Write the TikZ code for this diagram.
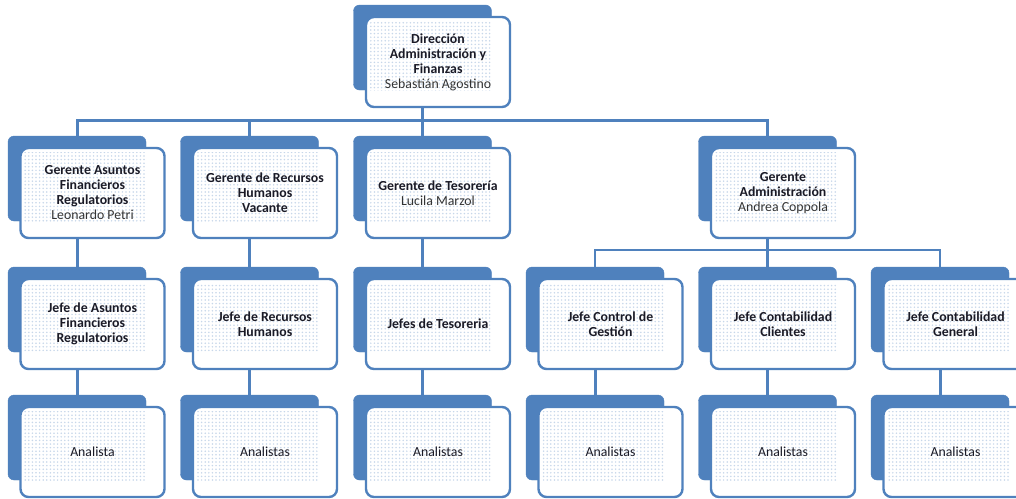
\documentclass[tikz,border=0pt]{standalone}
\usepackage{fontspec}
\setmainfont{Carlito}
\usetikzlibrary{patterns.meta}
\definecolor{obl}{HTML}{4F81BD}
\definecolor{txt}{HTML}{1A1A26}
\definecolor{nametxt}{HTML}{333333}
\tikzset{
  backbox/.style={fill=obl, draw=obl, rounded corners=6pt, minimum width=138pt, minimum height=85pt, inner sep=0pt, outer sep=0pt},
  frontbox/.style={fill=white, draw=obl, line width=2.4pt, rounded corners=8pt, minimum width=144pt, minimum height=90pt, inner sep=0pt, outer sep=0pt},
  dotfill/.style={pattern={Dots[distance=3.6pt,radius=0.85pt]}, pattern color=obl!32},
  boxtext/.style={align=center, font=\fontsize{13.8}{15}\selectfont, text=txt, inner sep=1pt},
  conn/.style={draw=obl, line width=3pt},
  subconn/.style={draw=obl, line width=2pt},
}
\newcommand\orgunit[4]{%
  \node[backbox] (b#1) at (#2, #3+42.5) {};
  \node[frontbox] (f#1) at (#2+15.5, #3+57) {};
  \fill[dotfill] ([shift={(3pt,-4pt)}]f#1.north west) rectangle (b#1.south east);
  \node[boxtext] (t#1) at (f#1.center) {#4};
}
\newcommand\nm[1]{{\color{nametxt}#1}}
\begin{document}
\begin{tikzpicture}[x=1pt, y=-1pt]
\useasboundingbox (0,0) rectangle (1016,498);
\fill[white] (0,0) rectangle (1016,498);

% level 1
\orgunit{0}{422.5}{5}{\textbf{Dirección}\\\textbf{Administración y}\\\textbf{Finanzas}\\\nm{Sebastián Agostino}}
% level 2
\orgunit{gA}{77}{136}{\textbf{Gerente Asuntos}\\\textbf{Financieros}\\\textbf{Regulatorios}\\\nm{Leonardo Petri}}
\orgunit{gB}{249.5}{136}{\textbf{Gerente de Recursos}\\\textbf{Humanos}\\\textbf{Vacante}}
\orgunit{gC}{422.5}{136}{\textbf{Gerente de Tesorería}\\\nm{Lucila Marzol}}
\orgunit{gD}{767.5}{136}{\textbf{Gerente}\\\textbf{Administración}\\\nm{Andrea Coppola}}
% level 3
\orgunit{jA}{77}{267}{\textbf{Jefe de Asuntos}\\\textbf{Financieros}\\\textbf{Regulatorios}}
\orgunit{jB}{249.5}{267}{\textbf{Jefe de Recursos}\\\textbf{Humanos}}
\orgunit{jC}{422.5}{267}{\textbf{Jefes de Tesoreria}}
\orgunit{jD}{595}{267}{\textbf{Jefe Control de}\\\textbf{Gestión}}
\orgunit{jE}{767.5}{267}{\textbf{Jefe Contabilidad}\\\textbf{Clientes}}
\orgunit{jF}{940}{267}{\textbf{Jefe Contabilidad}\\\textbf{General}}
% level 4
\orgunit{aA}{77}{395}{Analista}
\orgunit{aB}{249.5}{395}{Analistas}
\orgunit{aC}{422.5}{395}{Analistas}
\orgunit{aD}{595}{395}{Analistas}
\orgunit{aE}{767.5}{395}{Analistas}
\orgunit{aF}{940}{395}{Analistas}

% connectors
\coordinate (bus) at (422.5,120);
\coordinate (sub) at (767.5,250);
\draw[conn] (b0 |- f0.south) -- (bus);
\draw[conn] (bgA.north) |- (bus) -| (bgD.north);
\draw[conn] (bgB.north) -- (bgB |- bus);
\draw[conn] (bgC.north) -- (bgC |- bus);

\draw[conn] (bgA |- fgA.south) -- (bjA.north);
\draw[conn] (bgB |- fgB.south) -- (bjB.north);
\draw[conn] (bgC |- fgC.south) -- (bjC.north);
\draw[conn] (bgD |- fgD.south) -- (bjE.north);
\draw[subconn] (bjD.north) |- (sub) -| (bjF.north);

\draw[conn] (bjA |- fjA.south) -- (baA.north);
\draw[conn] (bjB |- fjB.south) -- (baB.north);
\draw[conn] (bjC |- fjC.south) -- (baC.north);
\draw[conn] (bjD |- fjD.south) -- (baD.north);
\draw[conn] (bjE |- fjE.south) -- (baE.north);
\draw[conn] (bjF |- fjF.south) -- (baF.north);
\end{tikzpicture}
\end{document}
